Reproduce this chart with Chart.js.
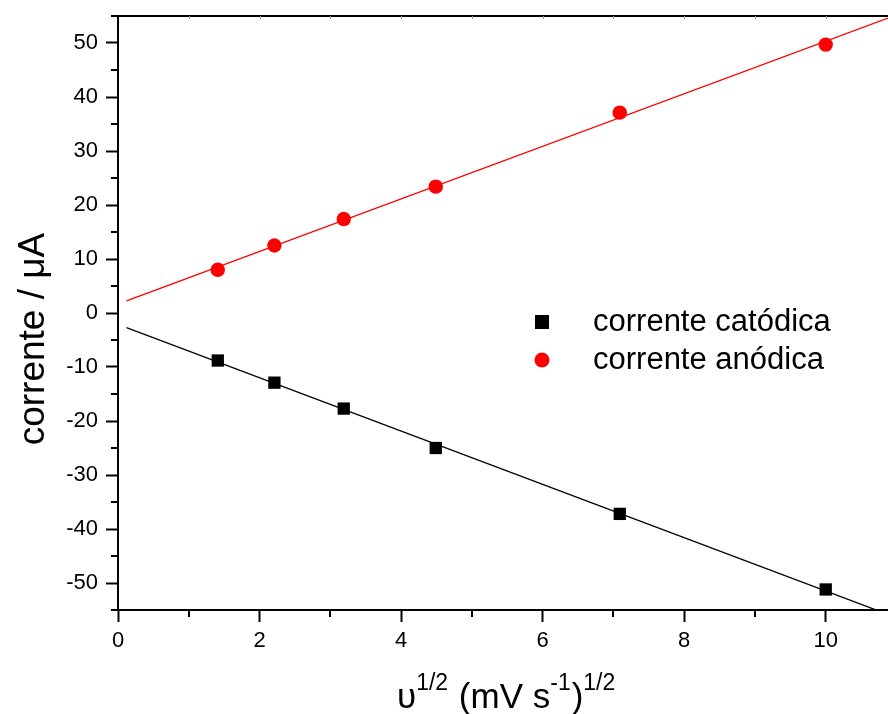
<!DOCTYPE html>
<html>
<head>
<meta charset="utf-8">
<script src="https://cdn.jsdelivr.net/npm/chart.js@4/dist/chart.umd.min.js"></script>
<style>
  html, body { margin: 0; padding: 0; background: #fff; }
  canvas { display: block; }
</style>
</head>
<body>
<canvas id="peaks" width="888" height="714"></canvas>
<script>
// square root of scan rate, (mV s-1)^1/2
var sqrtRate = [1.41, 2.21, 3.19, 4.49, 7.09, 10.0];
// peak currents, uA
var cathodic = [-8.8, -12.9, -17.7, -25.0, -37.2, -51.2];
var anodic = [8.0, 12.5, 17.4, 23.4, 37.1, 49.7];

var seriesNames = ["corrente catódica", "corrente anódica"];
var seriesColors = ["#000000", "#ff0000"];

var xTicks = [0, 2, 4, 6, 8, 10];
var xMinor = [1, 3, 5, 7, 9];
var yTicks = [-50, -40, -30, -20, -10, 0, 10, 20, 30, 40, 50];
var yMinor = [-55, -45, -35, -25, -15, -5, 5, 15, 25, 35, 45, 55];

var X_MIN = 0, X_MAX = 10.88;
var Y_MIN = -55, Y_MAX = 55;
var FIT_START = 0.12;

var FONT = "Arial, 'Liberation Sans', Helvetica, sans-serif";

// least squares straight line through the measured points
function linFit(xs, ys) {
    var n = xs.length, mx = 0, my = 0, sxy = 0, sxx = 0;
    for (var i = 0; i < n; i++) { mx += xs[i]; my += ys[i]; }
    mx /= n; my /= n;
    for (var j = 0; j < n; j++) {
        sxy += (xs[j] - mx) * (ys[j] - my);
        sxx += (xs[j] - mx) * (xs[j] - mx);
    }
    var slope = sxy / sxx;
    return { slope: slope, icept: my - slope * mx };
}

function fitLine(ys) {
    var f = linFit(sqrtRate, ys);
    return [FIT_START, X_MAX].map(function (x) {
        return { x: x, y: f.icept + f.slope * x };
    });
}

function points(ys) {
    return sqrtRate.map(function (x, i) { return { x: x, y: ys[i] }; });
}

// frame, minor ticks, axis titles and the legend
var decorations = {
    id: "decorations",
    afterDraw: function (chart) {
        var ctx = chart.ctx, area = chart.chartArea;
        var xs = chart.scales.x, ys = chart.scales.y;
        ctx.save();
        ctx.strokeStyle = "#000";
        ctx.lineWidth = 2;
        ctx.beginPath();
        ctx.moveTo(area.left, area.top);
        ctx.lineTo(area.right, area.top);
        ctx.stroke();

        ctx.beginPath();
        xMinor.forEach(function (v) {
            var px = Math.round(xs.getPixelForValue(v));
            ctx.moveTo(px, area.bottom);
            ctx.lineTo(px, area.bottom + 7);
        });
        yMinor.forEach(function (v) {
            var py = Math.round(ys.getPixelForValue(v));
            ctx.moveTo(area.left, py);
            ctx.lineTo(area.left - 7, py);
        });
        ctx.stroke();

        // faint ticks under the top frame
        ctx.strokeStyle = "#999";
        ctx.lineWidth = 1;
        ctx.beginPath();
        for (var t = 1; t <= 10; t++) {
            var tx = Math.round(xs.getPixelForValue(t)) + 0.5;
            ctx.moveTo(tx, area.top);
            ctx.lineTo(tx, area.top + 3);
        }
        ctx.stroke();

        ctx.fillStyle = "#000";

        // y title
        ctx.save();
        ctx.translate(44, 339);
        ctx.rotate(-Math.PI / 2);
        ctx.font = "37px " + FONT;
        ctx.textAlign = "center";
        ctx.textBaseline = "alphabetic";
        ctx.fillText("corrente / \u03bcA", 0, 0);
        ctx.restore();

        // x title with superscripts
        var parts = [
            ["\u03c5", false], ["1/2", true], [" (mV s", false],
            ["-1", true], [")", false], ["1/2", true]
        ];
        var big = "35px " + FONT, small = "23px " + FONT;
        var base = 708, cx = 397;
        ctx.textAlign = "left";
        ctx.textBaseline = "alphabetic";
        parts.forEach(function (p) {
            ctx.font = p[1] ? small : big;
            ctx.fillText(p[0], cx, p[1] ? base - 18 : base);
            cx += ctx.measureText(p[0]).width + (p[1] ? 1 : 0);
        });

        // legend
        var rows = [322, 360];
        ctx.font = "31px " + FONT;
        ctx.textBaseline = "middle";
        rows.forEach(function (ry, i) {
            ctx.fillStyle = seriesColors[i];
            if (i === 0) {
                ctx.fillRect(535, ry - 7, 14, 14);
            } else {
                ctx.beginPath();
                ctx.arc(542, ry, 7.5, 0, Math.PI * 2);
                ctx.fill();
            }
            ctx.fillStyle = "#000";
            ctx.fillText(seriesNames[i], 593, ry);
        });
        ctx.restore();
    }
};

var ctx = document.getElementById("peaks").getContext("2d");
var chart = new Chart(ctx, {
    type: "scatter",
    data: {
        datasets: [
            {
                label: seriesNames[0],
                data: points(cathodic),
                pointStyle: "rect",
                pointRadius: 8.7,
                pointBackgroundColor: seriesColors[0],
                pointBorderWidth: 0,
                showLine: false,
            },
            {
                label: seriesNames[1],
                data: points(anodic),
                pointStyle: "circle",
                pointRadius: 7.2,
                pointBackgroundColor: seriesColors[1],
                pointBorderWidth: 0,
                showLine: false,
            },
            {
                label: "fit catódica",
                data: fitLine(cathodic),
                showLine: true,
                pointRadius: 0,
                borderColor: seriesColors[0],
                borderWidth: 1.3,
                clip: 0,
            },
            {
                label: "fit anódica",
                data: fitLine(anodic),
                showLine: true,
                pointRadius: 0,
                borderColor: seriesColors[1],
                borderWidth: 1.3,
                clip: 0,
            },
        ],
    },
    options: {
        responsive: false,
        animation: false,
        layout: {
            autoPadding: false,
            padding: { top: 16, right: 0, left: 0, bottom: 0 },
        },
        plugins: {
            legend: { display: false },
            tooltip: { enabled: false },
        },
        scales: {
            x: {
                type: "linear",
                min: X_MIN,
                max: X_MAX,
                afterBuildTicks: function (s) {
                    s.ticks = xTicks.map(function (v) { return { value: v }; });
                },
                afterFit: function (s) {
                    s.height = 104;
                    s.paddingLeft = 0;
                    s.paddingRight = 0;
                },
                grid: {
                    drawOnChartArea: false,
                    tickLength: 12,
                    tickWidth: 2,
                    tickColor: "#000",
                },
                border: { color: "#000", width: 2 },
                ticks: {
                    color: "#000",
                    padding: 6,
                    maxRotation: 0,
                    font: { family: FONT, size: 22 },
                },
            },
            y: {
                type: "linear",
                min: Y_MIN,
                max: Y_MAX,
                afterBuildTicks: function (s) {
                    s.ticks = yTicks.map(function (v) { return { value: v }; });
                },
                afterFit: function (s) {
                    s.width = 118;
                    s.paddingTop = 0;
                    s.paddingBottom = 0;
                },
                grid: {
                    drawOnChartArea: false,
                    tickLength: 12,
                    tickWidth: 2,
                    tickColor: "#000",
                },
                border: { color: "#000", width: 2 },
                ticks: {
                    color: "#000",
                    padding: 8,
                    font: { family: FONT, size: 22 },
                },
            },
        },
    },
    plugins: [decorations],
});
</script>
</body>
</html>
